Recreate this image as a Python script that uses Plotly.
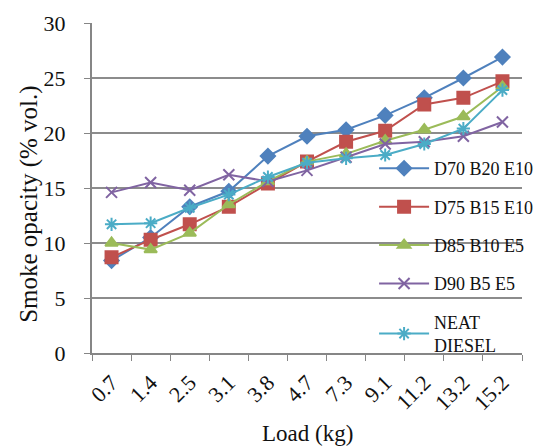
import plotly.graph_objects as go

loads = ["0.7", "1.4", "2.5", "3.1", "3.8", "4.7", "7.3", "9.1", "11.2", "13.2", "15.2"]
d70_b20_e10 = [8.4, 10.5, 13.3, 14.7, 17.9, 19.7, 20.3, 21.6, 23.2, 25.0, 26.9]
d75_b15_e10 = [8.7, 10.3, 11.7, 13.3, 15.4, 17.4, 19.2, 20.2, 22.6, 23.2, 24.7]
d85_b10_e5 = [10.0, 9.4, 10.9, 13.5, 15.6, 17.4, 18.1, 19.3, 20.3, 21.5, 24.2]
d90_b5_e5 = [14.6, 15.5, 14.8, 16.2, 15.6, 16.6, 17.8, 19.0, 19.2, 19.7, 21.0]
neat_diesel = [11.7, 11.8, 13.2, 14.4, 16.0, 17.3, 17.7, 18.0, 19.0, 20.4, 23.9]

series = [
    ("D70 B20 E10", d70_b20_e10, "#4F81BD", "diamond", 11),
    ("D75 B15 E10", d75_b15_e10, "#C0504D", "square", 12),
    ("D85 B10 E5", d85_b10_e5, "#9BBB59", "triangle-up", 11),
    ("D90 B5 E5", d90_b5_e5, "#8064A2", "x-thin-open", 11),
    ("NEAT<br>DIESEL", neat_diesel, "#4BACC6", "asterisk-open", 11),
]

fig = go.Figure()
for i, (name, vals, color, sym, size) in enumerate(series):
    fig.add_trace(go.Scatter(
        x=loads, y=vals, name=name, mode="lines+markers",
        legendgroup=f"g{i}",
        line=dict(color=color, width=2),
        marker=dict(symbol=sym, size=size, color=color,
                    line=dict(color=color, width=2)),
    ))

font_family = "Liberation Serif, Times New Roman, serif"
fig.update_layout(
    width=543, height=446,
    margin=dict(l=92, r=5, t=23, b=93),
    paper_bgcolor="white", plot_bgcolor="white",
    font=dict(family=font_family, color="#111", size=20),
    showlegend=True,
    legend=dict(
        x=0.656, y=0.615, xanchor="left", yanchor="top",
        bgcolor="rgba(0,0,0,0)", font=dict(size=18, family=font_family, color="#111"),
        tracegroupgap=12, traceorder="grouped", itemwidth=50,
    ),
    xaxis=dict(
        type="category", range=[-0.5, 10.5], tickson="boundaries",
        ticks="outside", ticklen=6, tickcolor="#868686",
        showline=True, linecolor="#868686", linewidth=2,
        showgrid=False, tickangle=-45,
        tickfont=dict(size=22, family=font_family, color="#111"),
        ticklabelstandoff=6,
    ),
    yaxis=dict(
        range=[0, 30], dtick=5, tick0=0,
        ticks="outside", ticklen=6, tickcolor="#868686",
        showline=True, linecolor="#868686", linewidth=2,
        showgrid=True, gridcolor="#8C8C8C", gridwidth=1.5,
        zeroline=False,
        tickfont=dict(size=22, family=font_family, color="#111"),
        ticklabelstandoff=14,
    ),
    annotations=[
        dict(text="Smoke opacity (% vol.)", textangle=-90, showarrow=False,
             xref="paper", yref="paper", x=-0.148, y=0.45,
             xanchor="center", yanchor="middle",
             font=dict(size=25, family=font_family, color="#111")),
        dict(text="Load (kg)", showarrow=False,
             xref="paper", yref="paper", x=0.5, y=-0.245,
             xanchor="center", yanchor="middle",
             font=dict(size=23, family=font_family, color="#111")),
    ],
)

fig.write_html("out.html")
